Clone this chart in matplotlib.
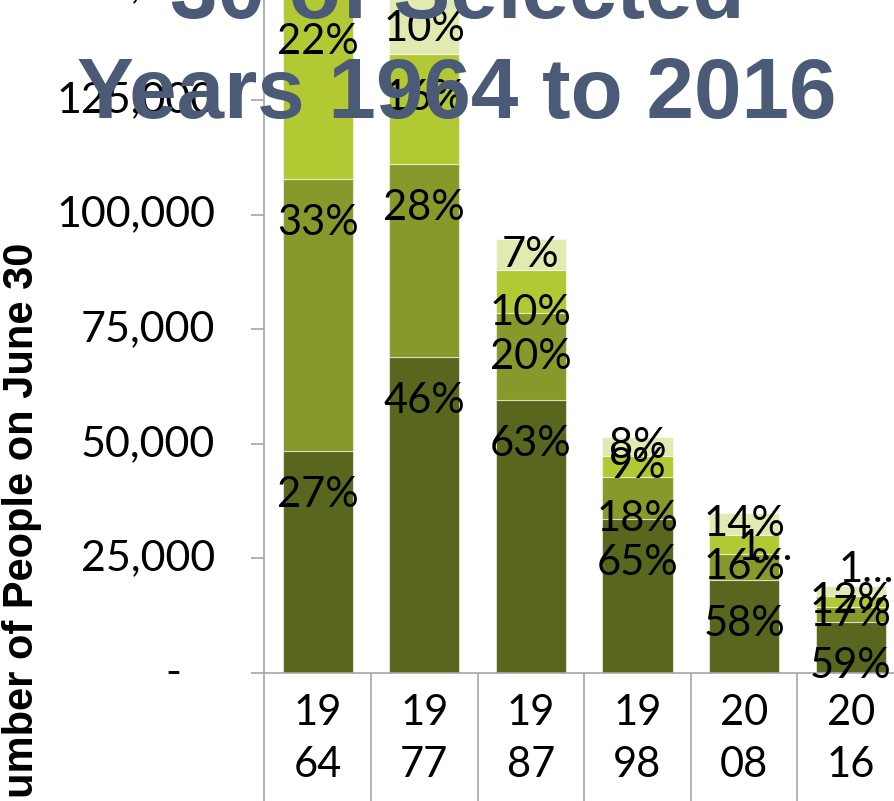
import numpy as np
import matplotlib.pyplot as plt
from matplotlib.ticker import FuncFormatter, FixedLocator

plt.rcParams['font.family'] = ['Lato', 'DejaVu Sans']

# people counted on June 30, by year
years = ["1964", "1977", "1987", "1998", "2008", "2016"]
totals = [179600, 150000, 94600, 51550, 34970, 19040]

# share of each group in percent (bottom to top)
share_dark = [27, 46, 63, 65, 58, 59]
share_olive = [33, 28, 20, 18, 16, 17]
share_bright = [22, 16, 10, 9, 12, 12]
share_pale = [18, 10, 7, 8, 14, 12]

# labels that did not fit in their segment
short_labels = {(4, 2): "1\u2026", (5, 3): "1\u2026"}

colors = ["#59661d", "#89982a", "#b3c934", "#e0eab1"]
grey = "#a6a6a6"


def year_label(y):
    return y[:2] + "\n" + y[2:]


def y_fmt(v, pos):
    if v == 0:
        return "-   "
    return f"{v:,.0f}"


def label_height(bottom, height):
    # put the label near the top of the segment, centred when the segment is thin
    if height < 7600:
        return bottom + height / 2
    return bottom + height - min(9600, height)


fig = plt.figure(figsize=(8.95, 8.01), dpi=100)
ax = fig.add_axes([264.4 / 895, 128 / 801, 639.6 / 895, 687.6 / 801])

x = np.arange(len(years))
shares = [share_dark, share_olive, share_bright, share_pale]
bottoms = np.zeros(len(years))
label_pos = []
for k, share in enumerate(shares):
    vals = np.array(totals) * np.array(share) / 100
    ax.bar(x, vals, bottom=bottoms, width=0.657, color=colors[k],
           edgecolor=(1, 1, 1, 0.55), linewidth=0.8, zorder=2)
    for i in range(len(years)):
        label_pos.append((i, k, label_height(bottoms[i], vals[i]), share[i]))
    bottoms = bottoms + vals

for i, k, yv, s in label_pos:
    txt = short_labels.get((i, k), f"{s}%")
    if (i, k) in short_labels:
        dx, dy = (15, -2) if i == 4 else (11, 15)
    else:
        dx, dy = 0, 0
    ax.annotate(txt, (x[i], yv), xytext=(dx, dy), textcoords='offset points',
                ha='center', va='center', fontsize=30, color='black',
                annotation_clip=False, zorder=5)

ax.set_xlim(-0.5, 5.5)
ax.set_ylim(0, 150000)

for side in ['top', 'right']:
    ax.spines[side].set_visible(False)
for side in ['left', 'bottom']:
    ax.spines[side].set_color(grey)
    ax.spines[side].set_linewidth(1.2)

ax.yaxis.set_major_locator(FixedLocator(range(0, 150001, 25000)))
ax.yaxis.set_major_formatter(FuncFormatter(y_fmt))
ax.tick_params(axis='y', direction='out', length=9.4, width=1.2, color=grey,
               pad=26, labelsize=31)
for t in ax.get_yticklabels():
    t.set_va('center')

ax.set_xticks(x)
ax.set_xticklabels([year_label(y) for y in years], linespacing=1.45)
ax.set_xticks(np.arange(-0.5, 6, 1), minor=True)
ax.tick_params(axis='x', which='major', length=0, pad=15, labelsize=30)
ax.tick_params(axis='x', which='minor', direction='out', length=95, width=1.2,
               color=grey)

fig.text(22 / 895, 1 - 535 / 801, "Number of People on June 30", rotation=90,
         fontsize=30, fontweight='bold', family=['Liberation Sans', 'DejaVu Sans'],
         ha='center', va='center')

title_kw = dict(fontsize=61.5, fontweight='bold', color='#4a5a77',
                family=['Liberation Sans', 'DejaVu Sans'], ha='center',
                va='baseline', zorder=10)
fig.text(457 / 895, 1 - 18 / 801, "30 of Selected", **title_kw)
fig.text(457 / 895, 1 - 118 / 801, "Years 1964 to 2016", **title_kw)

fig.savefig("out.png", dpi=100)
plt.close()
